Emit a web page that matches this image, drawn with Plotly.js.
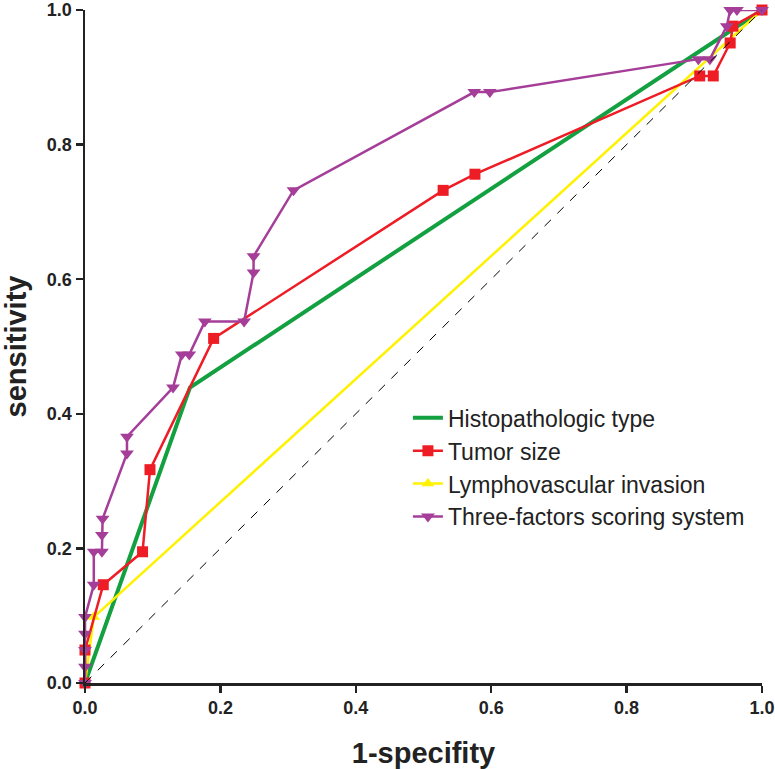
<!DOCTYPE html>
<html>
<head>
<meta charset="utf-8">
<script src="https://cdn.plot.ly/plotly-3.0.1.min.js"></script>
<style>html,body{margin:0;padding:0;background:#fff;}#chart{width:775px;height:769px;}</style>
</head>
<body>
<div id="chart"></div>
<script>
// ROC data (1-specificity, sensitivity)
var histoX = [0, 0.155, 1];
var histoY = [0, 0.439, 1];

var tumorX = [0, 0, 0.027, 0.085, 0.096, 0.190, 0.529, 0.576, 0.908, 0.928, 0.953, 0.957, 1];
var tumorY = [0, 0.049, 0.146, 0.195, 0.317, 0.512, 0.732, 0.756, 0.902, 0.902, 0.951, 0.976, 1];

var lymphX = [0, 0.013, 1];
var lymphY = [0, 0.098, 1];

var threeX = [0, 0, 0, 0, 0, 0.013, 0.013, 0.025, 0.025, 0.026, 0.062, 0.062, 0.130, 0.143, 0.154, 0.177, 0.235, 0.249, 0.249, 0.308, 0.575, 0.598, 0.906, 0.923, 0.948, 0.953, 0.963, 1];
var threeY = [0, 0.024, 0.049, 0.073, 0.098, 0.146, 0.195, 0.195, 0.220, 0.244, 0.341, 0.366, 0.439, 0.488, 0.488, 0.537, 0.537, 0.610, 0.634, 0.732, 0.878, 0.878, 0.927, 0.927, 0.976, 1, 1, 1];

var refX = [0, 1];
var refY = [0, 1];

var seriesNames = ["Histopathologic type", "Tumor size", "Lymphovascular invasion", "Three-factors scoring system"];
var tickVals = [0, 0.2, 0.4, 0.6, 0.8, 1.0];
var tickText = ["0.0", "0.2", "0.4", "0.6", "0.8", "1.0"];

var traces = [
  {x: histoX, y: histoY, name: seriesNames[0], mode: "lines", legendrank: 1, legendgroup: "a",
   line: {color: "#13a040", width: 4}},
  {x: lymphX, y: lymphY, name: seriesNames[2], mode: "lines+markers", legendrank: 3, legendgroup: "c",
   line: {color: "#fff200", width: 2.5}, marker: {symbol: "triangle-up", size: 11, color: "#fff200"}, cliponaxis: false},
  {x: tumorX, y: tumorY, name: seriesNames[1], mode: "lines+markers", legendrank: 2, legendgroup: "b",
   line: {color: "#ee1c25", width: 2.5}, marker: {symbol: "square", size: 11, color: "#ee1c25"}, cliponaxis: false},
  {x: threeX, y: threeY, name: seriesNames[3], mode: "lines+markers", legendrank: 4, legendgroup: "d",
   line: {color: "#a53e98", width: 2.5}, marker: {symbol: "triangle-down", size: 12, color: "#a53e98"}, cliponaxis: false},
  {x: refX, y: refY, mode: "lines", showlegend: false, hoverinfo: "skip",
   line: {color: "#000", width: 1, dash: "dash"}}
];

var FAM = "Arial, 'Liberation Sans', sans-serif";
var axisFont = {family: FAM, size: 18, color: "#222", weight: "bold"};

var layout = {
  width: 775, height: 769,
  margin: {l: 85, r: 13, t: 10, b: 86, pad: 0},
  paper_bgcolor: "#fff", plot_bgcolor: "#fff",
  showlegend: true,
  legend: {
    x: 0.477, y: 0.426, xanchor: "left", yanchor: "top",
    font: {family: FAM, size: 23, color: "#222"},
    bgcolor: "rgba(0,0,0,0)", tracegroupgap: 0, itemwidth: 30
  },
  xaxis: {
    range: [0, 1], tickvals: tickVals, ticktext: tickText,
    showgrid: false, zeroline: false, showline: true, linecolor: "#222", linewidth: 2.5,
    ticks: "outside", ticklen: 7, tickwidth: 2.5, tickcolor: "#222",
    tickfont: axisFont, ticklabeloverflow: "allow",
    title: {text: "1-specifity", font: {family: FAM, size: 29, color: "#222", weight: "bold"}, standoff: 27}
  },
  yaxis: {
    range: [0, 1], tickvals: tickVals, ticktext: tickText,
    showgrid: false, zeroline: false, showline: true, linecolor: "#222", linewidth: 2.5,
    ticks: "outside", ticklen: 7, tickwidth: 2.5, tickcolor: "#222",
    tickfont: axisFont, ticklabeloverflow: "allow",
    title: {text: "sensitivity", font: {family: FAM, size: 29, color: "#222", weight: "bold"}, standoff: 15}
  }
};

Plotly.newPlot("chart", traces, layout, {displayModeBar: false, staticPlot: true});
</script>
</body>
</html>
